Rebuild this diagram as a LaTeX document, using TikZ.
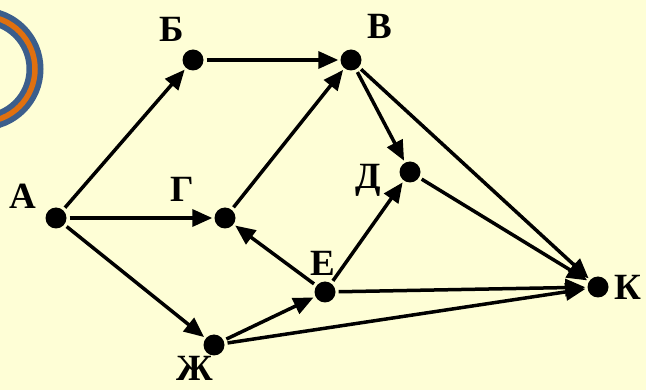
\documentclass[tikz,border=0pt]{standalone}
\usepackage{fontspec}
\setmainfont{Liberation Serif}
\usetikzlibrary{arrows.meta}
\definecolor{bgyellow}{HTML}{FEFED6}
\definecolor{ringblue}{HTML}{3B5E8C}
\definecolor{ringorange}{HTML}{E0700F}
\begin{document}
\begin{tikzpicture}[x=1pt,y=-1pt,
 dot/.style={circle,fill=black,inner sep=0pt,minimum size=21pt},
 lbl/.style={font=\bfseries\fontsize{37}{37}\selectfont,inner sep=0pt},
 edge/.style={line width=3.5pt,-{Triangle[length=20pt,width=17pt]},shorten >=2pt,shorten <=3pt}]
\fill[bgyellow] (0,0) rectangle (646,390);
\useasboundingbox (0,0) rectangle (646,390);
\begin{scope}
\clip (0,0) rectangle (646,390);
\draw[ringblue,line width=17pt] (-18,69) circle (53);
\draw[ringorange,line width=5.5pt] (-18,69) circle (53);
\end{scope}
\node[dot] (A) at (56,218) {};
\node[dot] (B) at (193,60) {};
\node[dot] (V) at (351,60) {};
\node[dot] (G) at (225,218) {};
\node[dot] (D) at (410,172) {};
\node[dot] (E) at (325,292) {};
\node[dot] (Zh) at (214,345) {};
\node[dot] (K) at (598,287) {};
\node[lbl] (lA) at (23,196) {А};
\node[lbl] (lB) at (172,29) {Б};
\node[lbl] (lV) at (380,26) {В};
\node[lbl] (lG) at (182,189) {Г};
\node[lbl] (lD) at (368,180) {Д};
\node[lbl] (lE) at (323,263) {Е};
\node[lbl] (lZh) at (195,368) {Ж};
\node[lbl] (lK) at (628,287) {К};
\draw[edge] (A) -- (B);
\draw[edge] (A) -- (G);
\draw[edge] (A) -- (Zh);
\draw[edge] (B) -- (V);
\draw[edge] (G) -- (V);
\draw[edge] (V) -- (D);
\draw[edge] (V) -- (K);
\draw[edge] (D) -- (K);
\draw[edge] (E) -- (G);
\draw[edge] (E) -- (D);
\draw[edge] (E) -- (K);
\draw[edge] (Zh) -- (E);
\draw[edge] (Zh) -- (K);
\end{tikzpicture}
\end{document}
